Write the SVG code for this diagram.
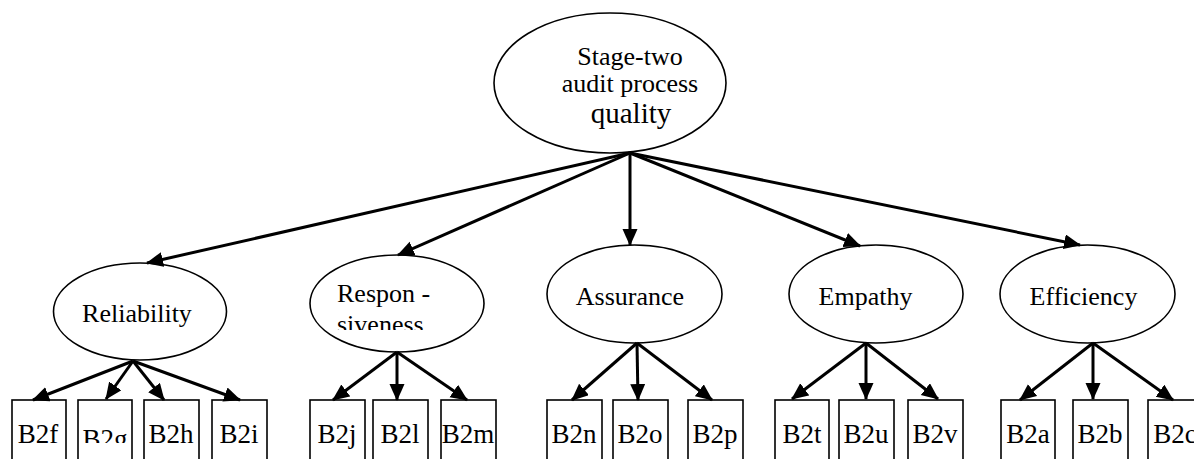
<svg xmlns="http://www.w3.org/2000/svg" width="1194" height="459" viewBox="0 0 1194 459">
<style>
.ell{fill:#fff;stroke:#000;stroke-width:1.6}
.box{fill:#fff;stroke:#000;stroke-width:1.6}
text{font-family:'Liberation Serif','Times New Roman',serif;fill:#000}
.t{font-size:26px}
.bt{font-size:27px;text-anchor:middle}
.c{text-anchor:middle}
.ar{stroke:#000;stroke-width:3;fill:none;marker-end:url(#ah)}
</style>
<defs>
<marker id="ah" markerUnits="userSpaceOnUse" markerWidth="18" markerHeight="16" refX="16" refY="7.5" orient="auto">
<path d="M0,0 L17,7.5 L0,15 z" fill="#000"/>
</marker>
<clipPath id="clipSiv"><rect x="300" y="300" width="200" height="30"/></clipPath>
<clipPath id="clipG"><rect x="78" y="400" width="54" height="43"/></clipPath>
</defs>
<rect width="1194" height="459" fill="#fff"/>

<g id="root" font-family="Liberation Serif, serif">
<ellipse class="ell" cx="610" cy="83" rx="116" ry="70"/>
<text class="t c" x="630" y="65">Stage-two</text>
<text class="t c" x="630" y="92">audit process</text>
<text class="t c" x="631" y="123" style="font-size:29px">quality</text>
</g>

<g id="reliability">
<ellipse class="ell" cx="140" cy="311.5" rx="86.5" ry="48.5"/>
<text class="t c" x="137" y="322">Reliability</text>
</g>
<g id="responsiveness">
<ellipse class="ell" cx="397" cy="303.5" rx="87" ry="48.5"/>
<text class="t" x="337" y="302">Respon -</text>
<text class="t" x="337" y="333" clip-path="url(#clipSiv)">siveness</text>
</g>
<g id="assurance">
<ellipse class="ell" cx="634.5" cy="294" rx="87.5" ry="49"/>
<text class="t c" x="630" y="305">Assurance</text>
</g>
<g id="empathy">
<ellipse class="ell" cx="876" cy="294" rx="87" ry="49"/>
<text class="t c" x="865.5" y="305">Empathy</text>
</g>
<g id="efficiency">
<ellipse class="ell" cx="1087.5" cy="294" rx="87.5" ry="49"/>
<text class="t c" x="1083.5" y="305">Efficiency</text>
</g>

<g id="B2f"><rect class="box" x="12" y="400" width="54" height="70"/><text class="bt" x="38" y="443">B2f</text></g>
<g id="B2g"><rect class="box" x="78" y="400" width="54" height="70"/><text class="bt" x="105" y="448" clip-path="url(#clipG)">B2g</text></g>
<g id="B2h"><rect class="box" x="144" y="400" width="55" height="70"/><text class="bt" x="171" y="443">B2h</text></g>
<g id="B2i"><rect class="box" x="212" y="400" width="55" height="70"/><text class="bt" x="239" y="443">B2i</text></g>

<g id="B2j"><rect class="box" x="310" y="400" width="55" height="70"/><text class="bt" x="337" y="443">B2j</text></g>
<g id="B2l"><rect class="box" x="373" y="400" width="55" height="70"/><text class="bt" x="400" y="443">B2l</text></g>
<g id="B2m"><rect class="box" x="441" y="400" width="55" height="70"/><text class="bt" x="468" y="443">B2m</text></g>

<g id="B2n"><rect class="box" x="547" y="400" width="55" height="70"/><text class="bt" x="574" y="443">B2n</text></g>
<g id="B2o"><rect class="box" x="613" y="400" width="55" height="70"/><text class="bt" x="640" y="443">B2o</text></g>
<g id="B2p"><rect class="box" x="688" y="400" width="55" height="70"/><text class="bt" x="715" y="443">B2p</text></g>

<g id="B2t"><rect class="box" x="775" y="400" width="54" height="70"/><text class="bt" x="802" y="443">B2t</text></g>
<g id="B2u"><rect class="box" x="839" y="400" width="55" height="70"/><text class="bt" x="866" y="443">B2u</text></g>
<g id="B2v"><rect class="box" x="908" y="400" width="55" height="70"/><text class="bt" x="935" y="443">B2v</text></g>

<g id="B2a"><rect class="box" x="1001" y="400" width="54" height="70"/><text class="bt" x="1028" y="443">B2a</text></g>
<g id="B2b"><rect class="box" x="1073" y="400" width="55" height="70"/><text class="bt" x="1100" y="443">B2b</text></g>
<g id="B2c"><rect class="box" x="1148" y="400" width="55" height="70"/><text class="bt" x="1175" y="443">B2c</text></g>

<g id="connectors">
<line class="ar" x1="630" y1="153" x2="147" y2="263"/>
<line class="ar" x1="630" y1="153" x2="398" y2="255"/>
<line class="ar" x1="630" y1="153" x2="630" y2="245"/>
<line class="ar" x1="630" y1="153" x2="860" y2="246"/>
<line class="ar" x1="630" y1="153" x2="1080" y2="245"/>

<line class="ar" x1="133" y1="361" x2="33" y2="400"/>
<line class="ar" x1="133" y1="361" x2="106" y2="399"/>
<line class="ar" x1="133" y1="361" x2="164" y2="400"/>
<line class="ar" x1="133" y1="361" x2="240" y2="400"/>

<line class="ar" x1="397" y1="352" x2="333" y2="400"/>
<line class="ar" x1="397" y1="352" x2="397" y2="400"/>
<line class="ar" x1="397" y1="352" x2="467" y2="400"/>

<line class="ar" x1="637" y1="343" x2="572" y2="400"/>
<line class="ar" x1="637" y1="343" x2="638" y2="400"/>
<line class="ar" x1="637" y1="343" x2="712" y2="400"/>

<line class="ar" x1="866" y1="343" x2="792" y2="399"/>
<line class="ar" x1="866" y1="343" x2="866" y2="399"/>
<line class="ar" x1="866" y1="343" x2="938" y2="399"/>

<line class="ar" x1="1093" y1="343" x2="1020" y2="400"/>
<line class="ar" x1="1093" y1="343" x2="1093" y2="399"/>
<line class="ar" x1="1093" y1="343" x2="1173" y2="400"/>
</g>
</svg>
